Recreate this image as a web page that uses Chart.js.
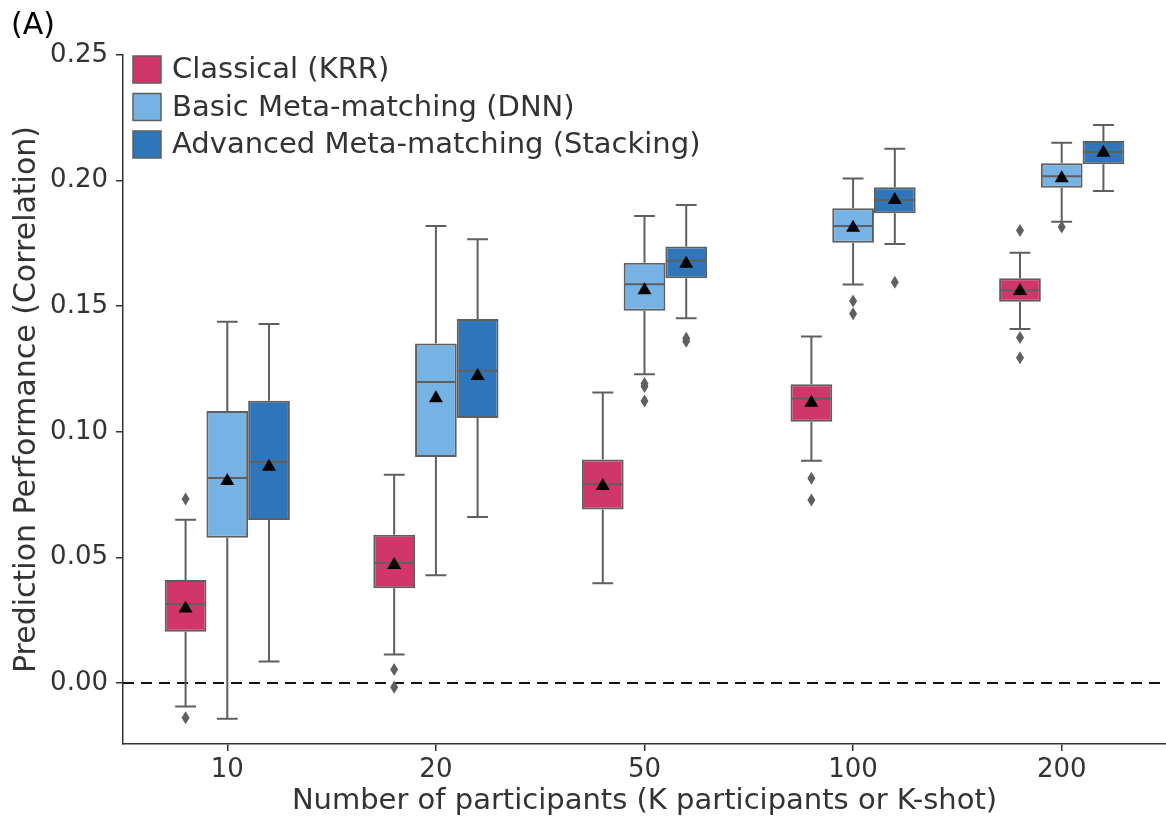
<!DOCTYPE html>
<html>
<head>
<meta charset="utf-8">
<script src="https://cdn.jsdelivr.net/npm/chart.js@4/dist/chart.umd.min.js"></script>
<style>
  html, body { margin: 0; padding: 0; background: #fff; }
  #wrap { width: 1166px; height: 821px; }
</style>
</head>
<body>
<div id="wrap"><canvas id="boxChart" width="1166" height="821"></canvas></div>
<script>
// K participants (x categories)
const groups = ['10', '20', '50', '100', '200'];
const seriesNames = ['Classical (KRR)', 'Basic Meta-matching (DNN)', 'Advanced Meta-matching (Stacking)'];
const seriesColors = ['#D0366A', '#76B2E4', '#2E75BA'];
const yTicks = [0, 0.05, 0.10, 0.15, 0.20, 0.25];

// Classical (KRR)
const krrQ1 = [0.0204, 0.0377, 0.0691, 0.1040, 0.1518];
const krrQ3 = [0.0410, 0.0590, 0.0890, 0.1189, 0.1611];
const krrMedian = [0.0314, 0.0478, 0.0791, 0.1132, 0.1563];
const krrMean = [0.0300, 0.0474, 0.0788, 0.1120, 0.1564];
const krrLow = [-0.0094, 0.0113, 0.0397, 0.0885, 0.1409];
const krrHigh = [0.0650, 0.0829, 0.1156, 0.1379, 0.1713];
const krrOutliers = [[0.0732, -0.0138], [0.0054, -0.0017], [], [0.0815, 0.0728], [0.1801, 0.1375, 0.1295]];

// Basic Meta-matching (DNN)
const dnnQ1 = [0.0578, 0.0900, 0.1482, 0.1753, 0.1972];
const dnnQ3 = [0.1083, 0.1351, 0.1673, 0.1890, 0.2069];
const dnnMedian = [0.0816, 0.1198, 0.1587, 0.1819, 0.2017];
const dnnMean = [0.0808, 0.1137, 0.1567, 0.1816, 0.2013];
const dnnLow = [-0.0142, 0.0429, 0.1229, 0.1586, 0.1836];
const dnnHigh = [0.1438, 0.1819, 0.1859, 0.2008, 0.2151];
const dnnOutliers = [[], [], [0.1192, 0.1180, 0.1123], [0.1521, 0.1470], [0.1815]];

// Advanced Meta-matching (Stacking)
const stkQ1 = [0.0649, 0.1055, 0.1611, 0.1870, 0.2065];
const stkQ3 = [0.1124, 0.1449, 0.1738, 0.1973, 0.2158];
const stkMedian = [0.0881, 0.1243, 0.1681, 0.1923, 0.2114];
const stkMean = [0.0865, 0.1226, 0.1673, 0.1927, 0.2115];
const stkLow = [0.0085, 0.0661, 0.1452, 0.1748, 0.1959];
const stkHigh = [0.1429, 0.1766, 0.1903, 0.2127, 0.2221];
const stkOutliers = [[], [], [0.1372, 0.1360], [0.1595], []];

const stats = [
    { q1: krrQ1, q3: krrQ3, med: krrMedian, mean: krrMean, lo: krrLow, hi: krrHigh, out: krrOutliers },
    { q1: dnnQ1, q3: dnnQ3, med: dnnMedian, mean: dnnMean, lo: dnnLow, hi: dnnHigh, out: dnnOutliers },
    { q1: stkQ1, q3: stkQ3, med: stkMedian, mean: stkMean, lo: stkLow, hi: stkHigh, out: stkOutliers }
];

const edgeColor = '#5f5f5f';
const textColor = '#333';
const fontFamily = "'DejaVu Sans', sans-serif";

// whiskers, medians, means, outliers, legend
const boxExtras = {
    id: 'boxExtras',
    beforeDatasetsDraw(chart) {
        const ctx = chart.ctx;
        const y = chart.scales.y;
        const area = chart.chartArea;
        ctx.save();
        // zero reference line
        ctx.strokeStyle = '#111';
        ctx.lineWidth = 2;
        ctx.setLineDash([11, 7]);
        ctx.beginPath();
        ctx.moveTo(area.left, y.getPixelForValue(0));
        ctx.lineTo(area.right, y.getPixelForValue(0));
        ctx.stroke();
        ctx.setLineDash([]);

        ctx.strokeStyle = edgeColor;
        ctx.lineWidth = 2;
        stats.forEach((s, di) => {
            chart.getDatasetMeta(di).data.forEach((bar, i) => {
                const x = bar.x, half = bar.width / 4;
                const pLo = y.getPixelForValue(s.lo[i]), pHi = y.getPixelForValue(s.hi[i]);
                ctx.beginPath();
                ctx.moveTo(x, pLo); ctx.lineTo(x, y.getPixelForValue(s.q1[i]));
                ctx.moveTo(x, pHi); ctx.lineTo(x, y.getPixelForValue(s.q3[i]));
                ctx.moveTo(x - half, pLo); ctx.lineTo(x + half, pLo);
                ctx.moveTo(x - half, pHi); ctx.lineTo(x + half, pHi);
                ctx.stroke();
            });
        });
        ctx.restore();
    },
    afterDatasetsDraw(chart) {
        const ctx = chart.ctx;
        const y = chart.scales.y;
        ctx.save();
        stats.forEach((s, di) => {
            chart.getDatasetMeta(di).data.forEach((bar, i) => {
                const x = bar.x, w = bar.width;
                // median
                const pm = y.getPixelForValue(s.med[i]);
                ctx.strokeStyle = edgeColor;
                ctx.lineWidth = 2;
                ctx.beginPath();
                ctx.moveTo(x - w / 2 + 1, pm); ctx.lineTo(x + w / 2 - 1, pm);
                ctx.stroke();
                // mean triangle
                const pt = y.getPixelForValue(s.mean[i]);
                ctx.fillStyle = '#000';
                ctx.beginPath();
                ctx.moveTo(x, pt - 7);
                ctx.lineTo(x + 7, pt + 5);
                ctx.lineTo(x - 7, pt + 5);
                ctx.closePath();
                ctx.fill();
                // outliers
                ctx.fillStyle = edgeColor;
                s.out[i].forEach(v => {
                    const po = y.getPixelForValue(v);
                    ctx.beginPath();
                    ctx.moveTo(x, po - 6.5);
                    ctx.lineTo(x + 4, po);
                    ctx.lineTo(x, po + 6.5);
                    ctx.lineTo(x - 4, po);
                    ctx.closePath();
                    ctx.fill();
                });
            });
        });
        ctx.restore();
    },
    afterDraw(chart) {
        const ctx = chart.ctx;
        ctx.save();
        ctx.textBaseline = 'middle';
        ctx.fillStyle = '#000';
        ctx.font = '30px ' + fontFamily;
        ctx.fillText('(A)', 11, 26);
        // legend
        ctx.font = '29px ' + fontFamily;
        seriesNames.forEach((name, k) => {
            const cy = 69.5 + k * 37.5;
            ctx.fillStyle = seriesColors[k];
            ctx.fillRect(133, cy - 13.5, 28, 27);
            ctx.strokeStyle = edgeColor;
            ctx.lineWidth = 1.5;
            ctx.strokeRect(133, cy - 13.5, 28, 27);
            ctx.fillStyle = textColor;
            ctx.fillText(name, 172, cy + 1);
        });
        ctx.restore();
    }
};

const ctxBox = document.getElementById('boxChart').getContext('2d');
const boxChart = new Chart(ctxBox, {
    type: 'bar',
    data: {
        labels: groups,
        datasets: stats.map((s, k) => ({
            label: seriesNames[k],
            data: s.q1.map((v, i) => [v, s.q3[i]]),
            backgroundColor: seriesColors[k],
            borderColor: edgeColor,
            borderWidth: 2,
            borderSkipped: false,
            categoryPercentage: 0.6,
            barPercentage: 1.0
        }))
    },
    options: {
        responsive: false,
        animation: false,
        layout: { padding: { top: 55, right: 0, left: 0, bottom: 0 } },
        plugins: {
            legend: { display: false },
            tooltip: { enabled: false }
        },
        scales: {
            x: {
                grid: { display: true, offset: false, drawOnChartArea: false, drawTicks: true, tickLength: 7, color: '#333', lineWidth: 1.5 },
                border: { display: true, color: '#333', width: 1.5 },
                ticks: { color: textColor, padding: 4, font: { family: fontFamily, size: 26 } },
                title: {
                    display: true,
                    text: 'Number of participants (K participants or K-shot)',
                    color: textColor,
                    padding: { top: 0, bottom: 2 },
                    font: { family: fontFamily, size: 29 }
                },
                afterFit(scale) { scale.height = 77; }
            },
            y: {
                min: -0.0243,
                max: 0.25,
                afterBuildTicks(scale) { scale.ticks = yTicks.map(v => ({ value: v })); },
                grid: { display: true, drawOnChartArea: false, drawTicks: true, tickLength: 7, color: '#333', lineWidth: 1.5 },
                border: { display: true, color: '#333', width: 1.5 },
                ticks: {
                    color: textColor,
                    padding: 8,
                    font: { family: fontFamily, size: 26 },
                    callback: v => Number(v).toFixed(2)
                },
                title: {
                    display: true,
                    text: 'Prediction Performance (Correlation)',
                    color: textColor,
                    padding: { top: 9, bottom: 0 },
                    font: { family: fontFamily, size: 30 }
                },
                afterFit(scale) { scale.width = 123; }
            }
        }
    },
    plugins: [boxExtras]
});
</script>
</body>
</html>
